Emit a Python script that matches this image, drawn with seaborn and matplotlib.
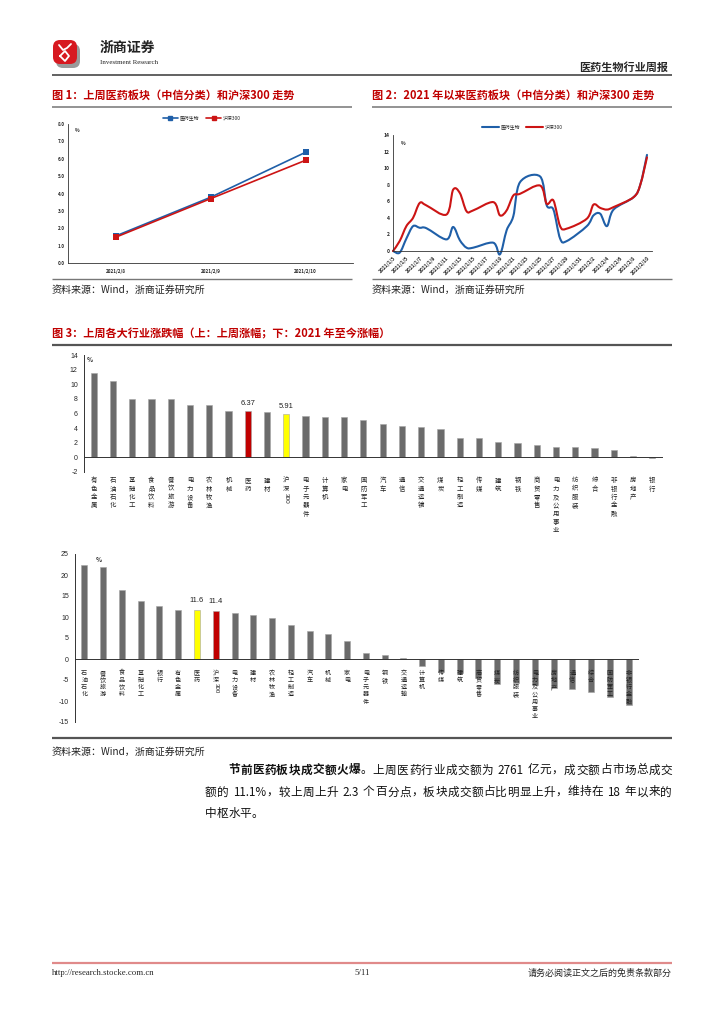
import numpy as np
import pandas as pd
import matplotlib
matplotlib.use("Agg")
import matplotlib.pyplot as plt
import matplotlib.patches as mpatches
import matplotlib.dates as mdates
import matplotlib.transforms as mtransforms
from matplotlib.path import Path
from matplotlib.lines import Line2D
import seaborn as sns

sns.set_theme(style="white")
plt.rcParams['font.family'] = ['Noto Sans CJK SC', 'DejaVu Sans']
plt.rcParams['axes.unicode_minus'] = False

# ---------------- data ----------------
# chart 1: last week
c1_days = ["2021/2/8", "2021/2/9", "2021/2/10"]
c1_yiyao = [1.55, 3.78, 6.37]
c1_hs300 = [1.48, 3.70, 5.91]

# chart 2: since 2021
c2_days = ["2021-01-03", "2021-01-04", "2021-01-05", "2021-01-06", "2021-01-07", "2021-01-08",
           "2021-01-11", "2021-01-12", "2021-01-13", "2021-01-14", "2021-01-15",
           "2021-01-18", "2021-01-19", "2021-01-20", "2021-01-21", "2021-01-22",
           "2021-01-25", "2021-01-26", "2021-01-27", "2021-01-28", "2021-01-29",
           "2021-02-01", "2021-02-02", "2021-02-03", "2021-02-04", "2021-02-05",
           "2021-02-08", "2021-02-09", "2021-02-10"]
c2_yiyao = [0.0, -0.2, 1.5, 3.0, 2.8, 2.75,
            1.4, 2.9, 1.3, 0.4, 0.4,
            1.0, -0.4, 2.5, 4.2, 8.3,
            9.0, 5.5, 5.0, 1.5, 1.2,
            3.0, 4.3, 4.5, 3.0, 5.0,
            6.5, 8.0, 11.6]
c2_hs300 = [0.0, 1.2, 3.0, 4.0, 5.8, 5.5,
            4.4, 7.4, 7.0, 4.8, 4.9,
            5.9, 4.3, 4.9, 6.7, 6.9,
            7.9, 5.7, 6.1, 3.0, 2.7,
            3.9, 5.6, 5.2, 5.0, 5.3,
            6.5, 8.0, 11.3]

# chart 3 top: last week change by industry
top_names = ["有色金属", "石油石化", "基础化工", "食品饮料", "餐饮旅游", "电力设备", "农林牧渔", "机械",
             "医药", "建材", "沪深300", "电子元器件", "计算机", "家电", "国防军工", "汽车", "通信",
             "交通运输", "煤炭", "轻工制造", "传媒", "建筑", "钢铁", "商贸零售", "电力及公用事业",
             "纺织服装", "综合", "非银行金融", "房地产", "银行"]
top_vals = [11.57, 10.4, 8.05, 8.05, 8.05, 7.18, 7.18, 6.36,
            6.37, 6.27, 5.91, 5.72, 5.55, 5.55, 5.08, 4.57, 4.3,
            4.16, 3.93, 2.7, 2.65, 2.15, 2.0, 1.65, 1.46,
            1.42, 1.23, 1.05, 0.14, -0.1]

# chart 3 bottom: change since 2021
bot_names = ["石油石化", "餐饮旅游", "食品饮料", "基础化工", "银行", "有色金属", "医药", "沪深300",
             "电力设备", "建材", "农林牧渔", "轻工制造", "汽车", "机械", "家电", "电子元器件", "钢铁",
             "交通运输", "计算机", "传媒", "建筑", "商贸零售", "煤炭", "纺织服装", "电力及公用事业",
             "房地产", "通信", "综合", "国防军工", "非银行金融"]
bot_vals = [22.4, 22.0, 16.5, 13.8, 12.7, 11.7, 11.6, 11.4,
            10.9, 10.4, 9.75, 8.15, 6.7, 6.07, 4.4, 1.36, 1.0,
            0.25, -1.7, -3.0, -3.4, -4.6, -5.9, -5.8, -6.2,
            -7.0, -7.2, -7.9, -9.1, -10.9]

BLUE = '#1f5fa8'
RED = '#cc1414'
GRAY = '#6b6b6b'

W, H = 724, 1024
fig = plt.figure(figsize=(W / 100, H / 100), dpi=100)
r = fig.canvas.get_renderer()


def add_ax(l, t, r_, b):
    return fig.add_axes([l / W, 1 - b / H, (r_ - l) / W, (b - t) / H])


# page overlay in pixel coordinates
page = fig.add_axes([0, 0, 1, 1])
page.set_xlim(0, W)
page.set_ylim(H, 0)
page.axis('off')


def hline(y, x0, x1, color='#555555', lw=1.2):
    page.plot([x0, x1], [y, y], color=color, lw=lw, solid_capstyle='butt')


# header
page.add_patch(mpatches.FancyBboxPatch((56, 44), 24, 24, boxstyle='round,pad=0,rounding_size=7',
                                       fc='#9a9a9a', ec='none'))
page.add_patch(mpatches.FancyBboxPatch((53, 40), 24, 24, boxstyle='round,pad=0,rounding_size=7',
                                       fc='#d71920', ec='none'))
page.plot([59, 63, 67, 71], [45, 50, 48, 44], color='white', lw=1.3)
page.plot([60, 65, 69, 65, 60], [56, 51, 56, 61, 56], color='white', lw=1.3)
page.text(100, 48, "浙商证券", fontsize=10, fontweight='bold', va='center', color='#222222')
page.text(100, 63, "Investment Research", fontsize=5, va='center', family='Liberation Serif',
          color='#222222')
page.text(668, 67, "医药生物行业周报", fontsize=8, fontweight='bold', ha='right', va='center')
hline(75, 52, 672, lw=1.3)

# section titles and rules
title_kw = dict(fontsize=8, fontweight='bold', color='#c00000', va='center')
page.text(52, 96, "图 1：上周医药板块（中信分类）和沪深300 走势", **title_kw)
page.text(372, 96, "图 2：2021 年以来医药板块（中信分类）和沪深300 走势", **title_kw)
hline(107, 52, 352, color='#8a8a8a', lw=1.3)
hline(107, 372, 672, color='#8a8a8a', lw=1.3)
hline(279, 52, 352, color='#777777', lw=1.0)
hline(279, 372, 672, color='#777777', lw=1.0)
src_kw = dict(fontsize=7.2, va='center', color='#222222')
page.text(52, 290, "资料来源：Wind，浙商证券研究所", **src_kw)
page.text(372, 290, "资料来源：Wind，浙商证券研究所", **src_kw)
page.text(52, 334, "图 3：上周各大行业涨跌幅（上：上周涨幅；下：2021 年至今涨幅）", **title_kw)
hline(345, 52, 672, color='#555555', lw=1.6)
hline(738, 52, 672, color='#555555', lw=1.6)
page.text(52, 752, "资料来源：Wind，浙商证券研究所", **src_kw)


def style_axes(ax):
    for s in ['top', 'right']:
        ax.spines[s].set_visible(False)
    for s in ['left', 'bottom']:
        ax.spines[s].set_color('#333333')
        ax.spines[s].set_linewidth(0.6)
    ax.set_xlabel('')
    ax.set_ylabel('')


# ---------------- chart 1 ----------------
ax1 = add_ax(68, 124, 353, 263)
df1 = pd.DataFrame({
    'x': list(range(3)) * 2,
    'val': c1_yiyao + c1_hs300,
    'series': ['医药生物'] * 3 + ['沪深300'] * 3,
})
sns.lineplot(data=df1, x='x', y='val', hue='series', palette={'医药生物': BLUE, '沪深300': RED},
             marker='s', markersize=4, markeredgewidth=0, linewidth=1.2, legend=False, ax=ax1)
ax1.set_xlim(-0.5, 2.5)
ax1.set_ylim(0, 8)
ax1.set_yticks(np.arange(0, 9, 1))
ax1.set_yticklabels([f"{v:.1f}" for v in range(9)], fontsize=3.3, fontweight='bold')
ax1.set_xticks(range(3))
ax1.set_xticklabels(c1_days, fontsize=3.3, fontweight='bold')
ax1.set_xticks(np.arange(-0.5, 3, 1), minor=True)
ax1.tick_params(axis='x', which='major', length=0, pad=4)
ax1.tick_params(axis='x', which='minor', length=2, width=0.5, direction='out')
ax1.tick_params(axis='y', length=1.5, width=0.5, direction='out', pad=1)
style_axes(ax1)
ax1.text(0.025, 0.97, "%", transform=ax1.transAxes, fontsize=3.5, fontweight='bold', va='top')
h1 = [Line2D([0], [0], color=BLUE, lw=1.2, marker='s', markersize=2.5),
      Line2D([0], [0], color=RED, lw=1.2, marker='s', markersize=2.5)]
ax1.legend(h1, ['医药生物', '沪深300'], loc='center', bbox_to_anchor=(0.47, 1.045), ncol=2,
           frameon=False, fontsize=3.5, handlelength=3, columnspacing=1.5, handletextpad=0.4)

# ---------------- chart 2 ----------------
ax2 = add_ax(393, 135, 652, 251)
d2 = mdates.date2num(pd.to_datetime(c2_days))


def smooth_path(xs, ys):
    # Catmull-Rom style Bezier through the data points (like a "smoothed line" chart)
    pts = np.column_stack([xs, ys])
    ext = np.vstack([pts[0], pts, pts[-1]])
    verts = [tuple(pts[0])]
    codes = [Path.MOVETO]
    for i in range(len(pts) - 1):
        p0, p1, p2, p3 = ext[i], ext[i + 1], ext[i + 2], ext[i + 3]
        c1 = p1 + (p2 - p0) / 6
        c2 = p2 - (p3 - p1) / 6
        verts += [tuple(c1), tuple(c2), tuple(p2)]
        codes += [Path.CURVE4] * 3
    return Path(verts, codes)


for vals, col in [(c2_yiyao, BLUE), (c2_hs300, RED)]:
    ax2.add_patch(mpatches.PathPatch(smooth_path(d2, vals), fc='none', ec=col, lw=1.5,
                                     clip_on=False, capstyle='round', joinstyle='round'))
start = pd.Timestamp("2021-01-03")
ax2.set_xlim(mdates.date2num(start), mdates.date2num(start) + 38.75)
ax2.set_ylim(0, 14)
ax2.set_yticks(np.arange(0, 15, 2))
ax2.set_yticklabels([str(v) for v in range(0, 15, 2)], fontsize=3.6, fontweight='bold')
ticks2 = pd.date_range("2021-01-03", "2021-02-10", freq="2D")
ax2.set_xticks(mdates.date2num(ticks2))
ax2.set_xticklabels([f"{d.year}/{d.month}/{d.day}" for d in ticks2], fontsize=3.5,
                    fontweight='bold', rotation=45, ha='right', va='top', rotation_mode='anchor')
ax2.tick_params(axis='x', length=1.5, width=0.5, direction='out', pad=1.5)
ax2.tick_params(axis='y', length=1.5, width=0.5, direction='out', pad=1)
style_axes(ax2)
ax2.text(0.03, 0.95, "%", transform=ax2.transAxes, fontsize=3.5, fontweight='bold', va='top')
h2 = [Line2D([0], [0], color=BLUE, lw=1.5), Line2D([0], [0], color=RED, lw=1.5)]
ax2.legend(h2, ['医药生物', '沪深300'], loc='center', bbox_to_anchor=(0.5, 1.07), ncol=2,
           frameon=False, fontsize=3.5, handlelength=3.5, columnspacing=1.2, handletextpad=0.4)


# ---------------- chart 3 ----------------
def tokens(name):
    out, buf = [], ''
    for ch in name:
        if ch.isascii():
            buf += ch
        else:
            if buf:
                out.append(buf)
                buf = ''
            out.append(ch)
    if buf:
        out.append(buf)
    return out


def vlabel(ax, x, y, name, fs, pitch):
    # stacked vertical label, one character per row; digit runs are turned sideways
    off = 0.0
    for tok in tokens(name):
        tr = mtransforms.offset_copy(ax.transData, fig=fig, x=0, y=-off, units='points')
        if tok.isascii():
            ax.text(x, y, tok, transform=tr, ha='center', va='top', rotation=-90, fontsize=fs,
                    color='#222222', zorder=5, family=['Liberation Sans', 'DejaVu Sans'])
            off += len(tok) * fs * 0.58 + 1
        else:
            ax.text(x, y, tok, transform=tr, ha='center', va='top', fontsize=fs, color='#222222',
                    zorder=5)
            off += pitch


def bar_panel(ax, names, vals, hi_red, hi_yellow, ylo, yhi, step, label_y, fs, pitch, digits,
              pct_x):
    colors = ['#c00000' if n == hi_red else '#ffff00' if n == hi_yellow else GRAY for n in names]
    sns.barplot(x=names, y=vals, hue=names, palette=colors, legend=False, width=0.32,
                saturation=1, edgecolor='#a5a5a5', linewidth=0.4, ax=ax)
    ax.set_xlim(-0.5, len(names) - 0.5)
    ax.set_ylim(ylo, yhi)
    ax.set_yticks(np.arange(ylo, yhi + 1, step))
    ax.set_yticklabels([str(v) for v in range(ylo, yhi + 1, step)], fontsize=5,
                       family=['Liberation Sans', 'DejaVu Sans'])
    ax.set_xticks(np.arange(-0.5, len(names), 1))
    ax.set_xticklabels([])
    ax.tick_params(axis='x', length=2.5, width=0.6, direction='out', color='#222222')
    ax.tick_params(axis='y', length=2.5, width=0.6, direction='out', color='#222222', pad=2)
    ax.spines['bottom'].set_position(('data', 0))
    style_axes(ax)
    ax.spines['bottom'].set_linewidth(0.7)
    ax.spines['left'].set_linewidth(0.7)
    for i, n in enumerate(names):
        vlabel(ax, i, label_y, n, fs, pitch)
        if n in (hi_red, hi_yellow):
            ax.text(i, vals[i] + (yhi - ylo) * 0.035, f"{vals[i]:.{digits}f}", ha='center',
                    va='bottom', fontsize=5.5, color='#222222',
                    family=['Liberation Sans', 'DejaVu Sans'])
    ax.text(pct_x, 0.99, "%", transform=ax.transAxes, fontsize=4.5, fontweight='bold', va='top')


ax3 = add_ax(84, 355, 662, 472)
bar_panel(ax3, top_names, top_vals, '医药', '沪深300', -2, 14, 2, -2.6, 4.6, 6.0, 2, 0.005)

ax4 = add_ax(75, 554, 638, 722)
bar_panel(ax4, bot_names, bot_vals, '沪深300', '医药', -15, 25, 5, -2.3, 4.4, 5.2, 1, 0.036)


# ---------------- paragraph ----------------
def para_line(x0, x1, y, segments, fs, justify=True):
    items = []
    for text, weight in segments:
        for tok in tokens(text):
            if tok.isascii():
                for j, part in enumerate(tok.split(' ')):
                    if j > 0:
                        items.append((None, None))
                    if part:
                        items.append((part, weight))
            else:
                items.append((tok, weight))
    objs, widths = [], []
    space = fs * 100 / 72 * 0.3
    for s, wgt in items:
        if s is None:
            objs.append(None)
            widths.append(space)
            continue
        t = page.text(0, y, s, fontsize=fs, fontweight=wgt, va='center', ha='left',
                      color='#111111')
        objs.append(t)
        widths.append(t.get_window_extent(r).width)
    gap = (x1 - x0 - sum(widths)) / max(len(items) - 1, 1) if justify else 0.0
    x = x0
    for t, w in zip(objs, widths):
        if t is not None:
            t.set_x(x)
        x += w + gap


pfs = 8.4
para_line(228, 672, 770, [("节前医药板块成交额火爆", 'bold'),
                          ("。上周医药行业成交额为 2761 亿元，成交额占市场总成交", 'normal')], pfs)
para_line(205, 672, 792, [("额的 11.1%，较上周上升 2.3 个百分点，板块成交额占比明显上升，维持在 18 年以来的",
                           'normal')], pfs)
para_line(205, 672, 813, [("中枢水平。", 'normal')], pfs, justify=False)

# ---------------- footer ----------------
hline(963, 52, 672, color='#e08a8a', lw=1.6)
page.text(52, 973, "http://research.stocke.com.cn", fontsize=6.3, va='center',
          family='Liberation Serif')
page.text(362, 973, "5/11", fontsize=6.3, va='center', ha='center', family='Liberation Serif')
page.text(672, 973, "请务必阅读正文之后的免责条款部分", fontsize=6.5, va='center', ha='right')

fig.savefig("out.png", dpi=100)
